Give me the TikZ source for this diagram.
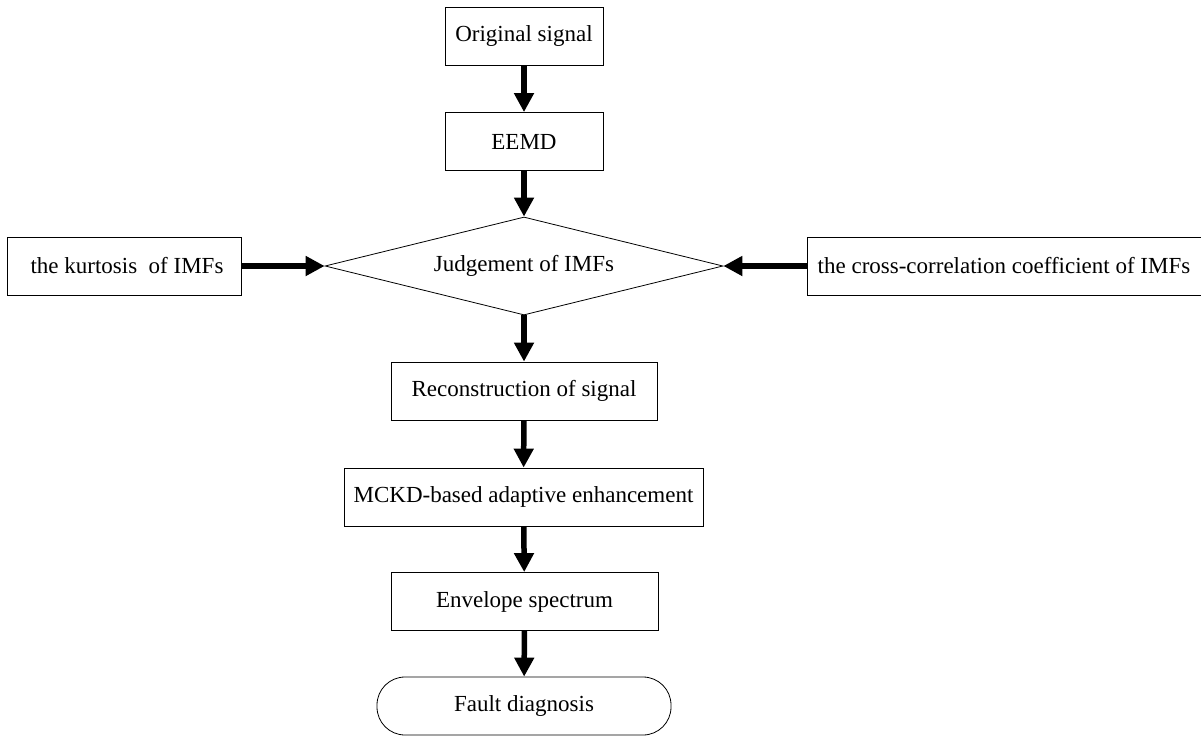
\documentclass[tikz,border=0pt]{standalone}
\usepackage{fontspec}
\setmainfont{Liberation Serif}
\usetikzlibrary{shapes.geometric,arrows.meta}
\begin{document}
\begin{tikzpicture}[x=1pt, y=1pt, line join=miter, font=\fontsize{23}{28}\selectfont]
			\tikzset{box/.style={draw, line width=0.8pt, inner sep=0pt, minimum height=58pt},
			flow/.style={line width=5.5pt, -{Triangle[width=19pt,length=19pt]}}}
			\useasboundingbox (0,0) rectangle (1201,-736);
			\node[box, minimum width=158pt] (orig) at (524,-36.5) {Original signal};
			\node[box, minimum width=158pt] (eemd) at (524,-141.5) {EEMD};
			\node[draw, line width=0.8pt, shape=diamond, shape aspect=4.06, inner sep=0pt, minimum width=398pt, minimum height=98pt] (judge) at (524,-266) {Judgement of IMFs};
			\node[box, minimum width=234pt] (kurt) at (124,-266) {\hspace*{6pt}the kurtosis\ \ of IMFs};
			\node[box, minimum width=402pt] (cross) at (1008,-266) {\hspace*{-8pt}the cross-correlation coefficient of IMFs};
			\node[box, minimum width=266pt] (recon) at (524,-391) {Reconstruction of signal};
			\node[box, minimum width=359pt] (mckd) at (523.5,-497) {MCKD-based adaptive enhancement};
			\node[box, minimum width=267pt] (env) at (524.5,-601.5) {Envelope spectrum};
			\node[box, minimum width=294pt, rounded corners=28pt] (fault) at (524,-706) {Fault diagnosis};
			\draw[flow] (orig) -- (eemd);
			\draw[flow] (eemd) -- (judge);
			\draw[flow] (kurt) -- (judge);
			\draw[flow] (cross) -- (judge);
			\draw[flow] (judge) -- (recon);
			\draw[flow] (recon) -- (mckd);
			\draw[flow] (mckd) -- (env);
			\draw[flow] (env) -- (fault);
	\end{tikzpicture}
\end{document}
